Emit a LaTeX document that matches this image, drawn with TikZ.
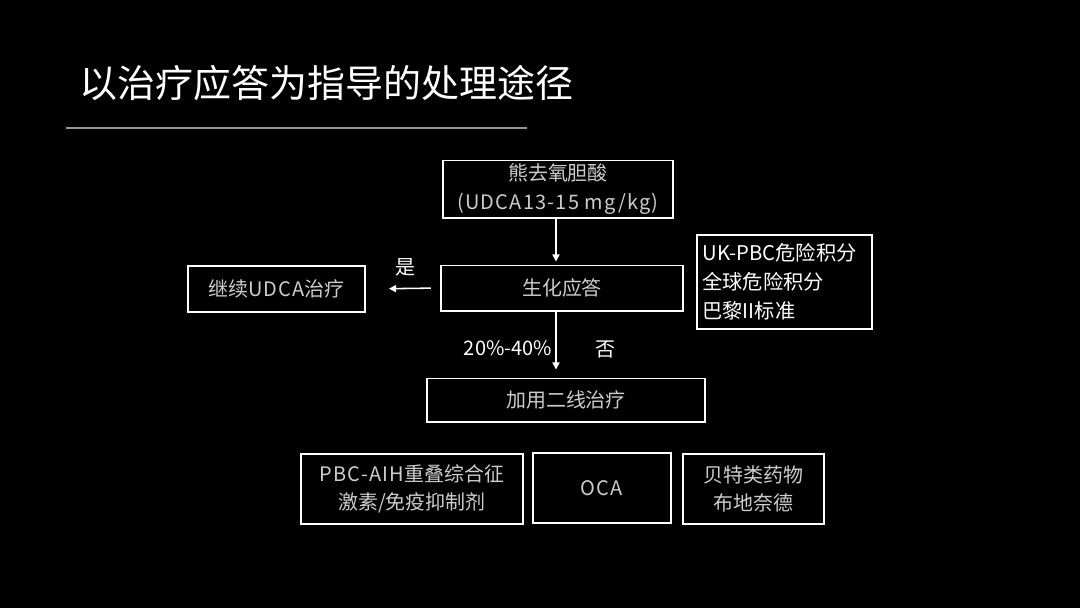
\documentclass[tikz,border=0pt]{standalone}
\usepackage{fontspec}
\setmainfont{Noto Sans CJK SC}
\newfontfamily\widelatin[LetterSpace=6]{Noto Sans CJK SC}
\usetikzlibrary{arrows.meta, positioning}
\definecolor{boxgray}{RGB}{205,205,205}
\definecolor{rulegray}{RGB}{150,150,150}

\begin{document}
\begin{tikzpicture}[
    x=0.025cm, y=-0.025cm,
    stepbox/.style={
      draw=white,
      line width=1.4pt,
      text=boxgray,
      align=center,
      inner sep=0pt,
      font=\fontsize{14.2}{20}\selectfont
    },
    tag/.style={text=white, font=\fontsize{14.2}{20}\selectfont},
    flow/.style={draw=white, line width=1.1pt, -{Triangle[width=5pt,length=5pt]}}
  ]
    % background and title
    \fill[black] (0,0) rectangle (1080,608);
    \node[text=white, anchor=west, font=\fontsize{27}{32}\selectfont] (title) at (75,83) {以治疗应答为指导的处理途径};
    \draw[rulegray, line width=1.1pt] (66,128) -- (527,128);
    \coordinate (axis) at (556,0);

    % main column
    \node[stepbox, minimum width=5.75cm, minimum height=1.425cm] (udca) at (558,189) {熊去氧胆酸\\{\widelatin (UDCA13-15 mg/kg)}};
    \node[stepbox, minimum width=6.05cm, minimum height=1.125cm] (resp) at (562,288) {生化应答};
    \node[stepbox, minimum width=4.425cm, minimum height=1.15cm] (cont) at (276.5,289) {继续{\widelatin UDCA}治疗};
    \node[stepbox, text=white, align=left, minimum width=4.375cm, minimum height=2.35cm, text width=4.1cm, font=\fontsize{14.4}{20.6}\selectfont] (score) at (784.5,282) {UK-PBC危险积分\\全球危险积分\\巴黎II标准};
    \node[stepbox, minimum width=6.95cm, minimum height=1.075cm] (second) at (566,400) {加用二线治疗};

    % second line options
    \node[stepbox, minimum width=5.55cm, minimum height=1.75cm] (pbc) at (412,489) {{\widelatin PBC-AIH}重叠综合征\\激素/免疫抑制剂};
    \node[stepbox, minimum width=3.45cm, minimum height=1.75cm] (oca) at (602,488) {\widelatin OCA};
    \node[stepbox, minimum width=3.525cm, minimum height=1.75cm] (fib) at (753.5,489) {贝特类药物\\布地奈德};

    % connectors
    \draw[flow, shorten >=0.075cm] (udca.south -| axis) -- (resp.north -| axis);
    \draw[flow, shorten <=0.225cm, shorten >=0.575cm] (resp.west) -- (cont.east);
    \draw[flow, shorten >=0.2cm] (resp.south -| axis) -- (second.north -| axis);
    \node[tag] (yes) at (405,267) {是};
    \node[tag, anchor=east] (rate) at (557,348) {20\%-40\%};
    \node[tag] (no) at (605,349) {否};
  \end{tikzpicture}
\end{document}
